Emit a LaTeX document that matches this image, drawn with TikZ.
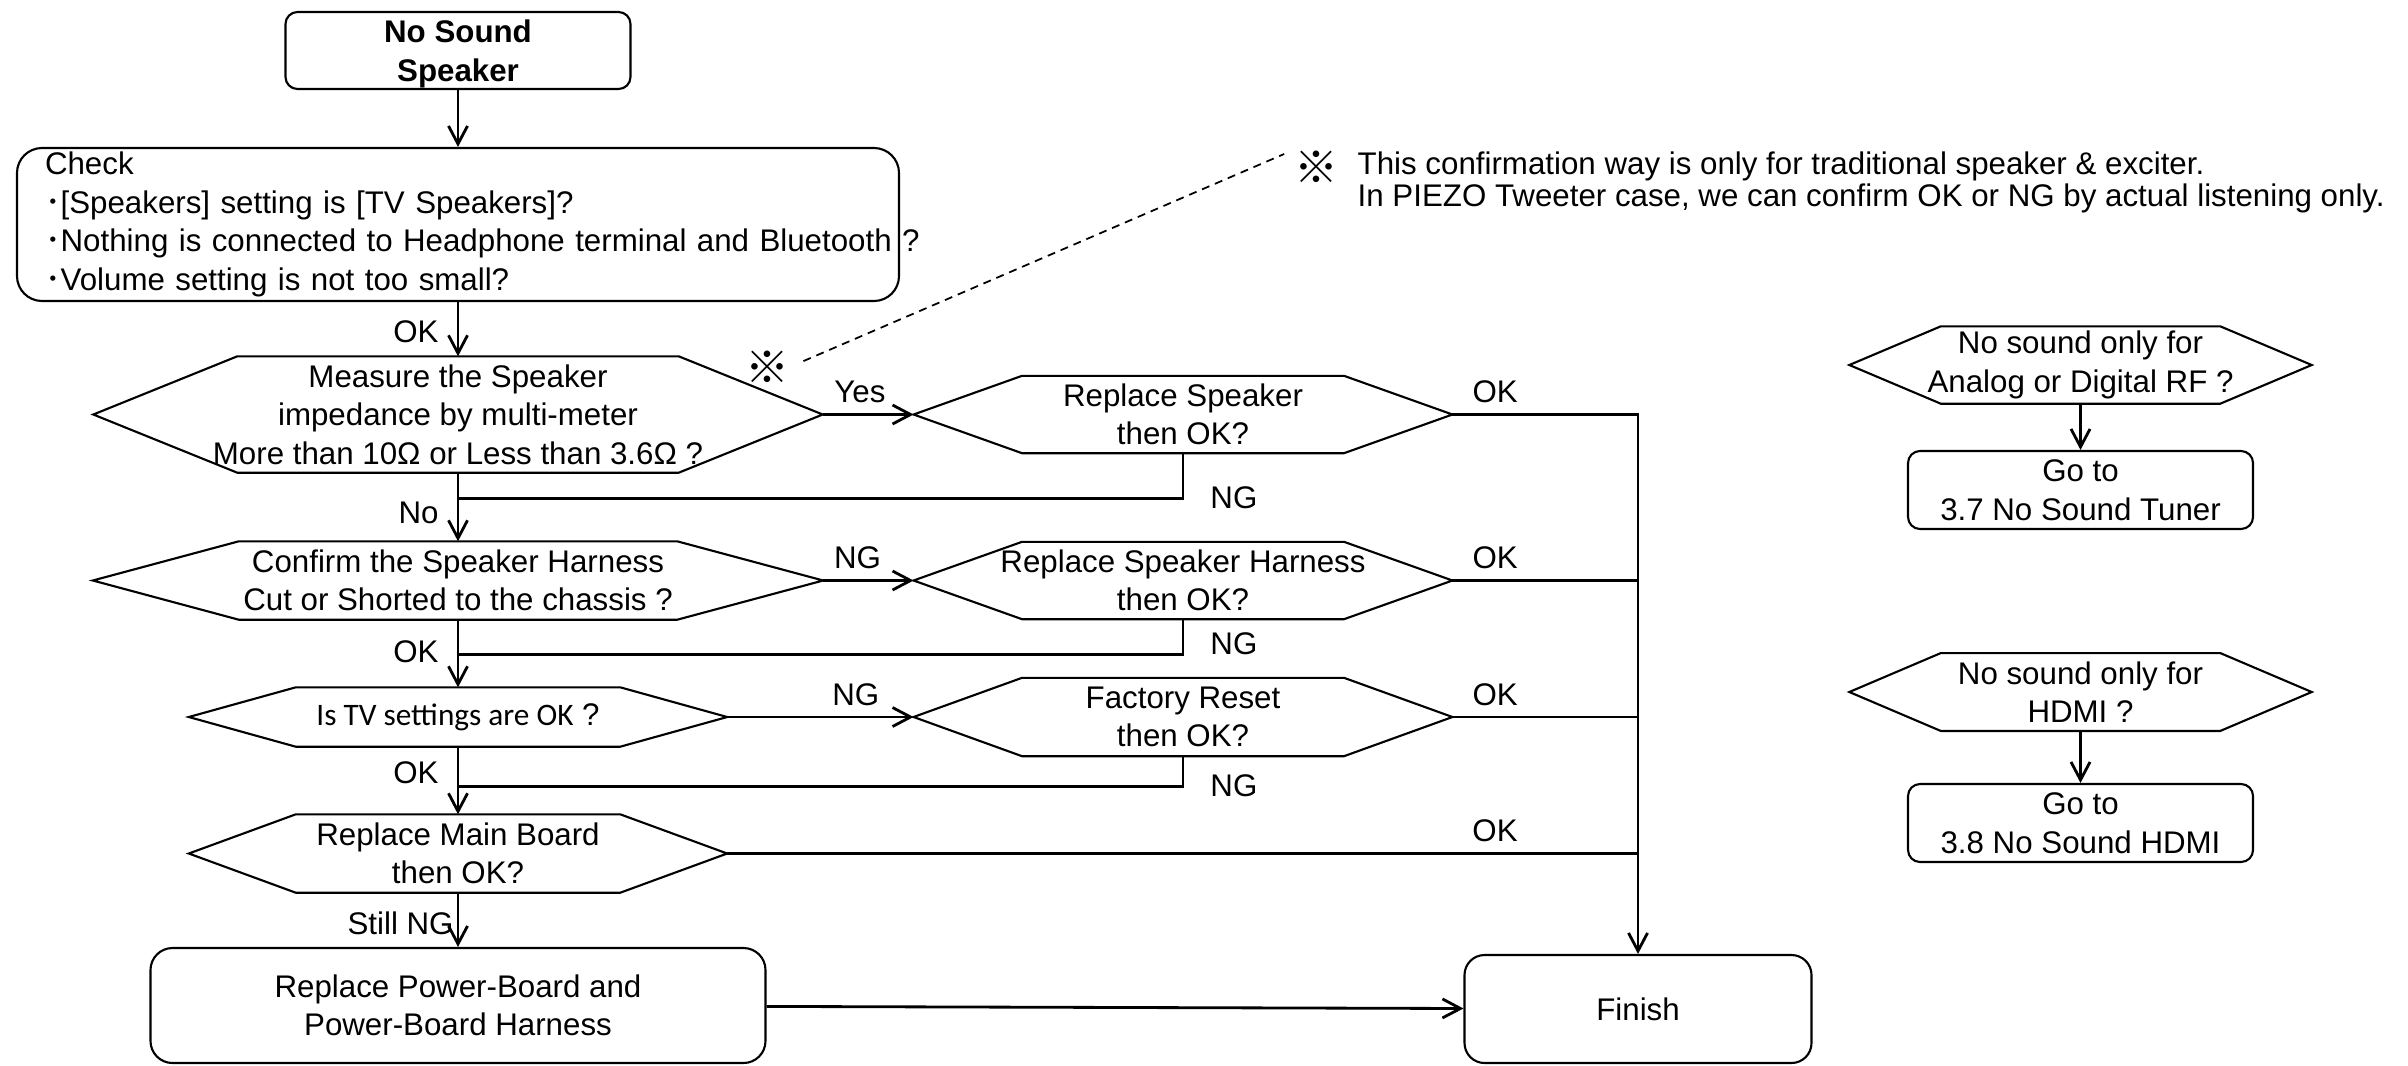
\documentclass[tikz,border=0pt]{standalone}
\usepackage{fontspec}
\setmainfont{Liberation Sans}
\newfontfamily\cjk{Noto Sans CJK JP}
\newfontfamily\calfont{Carlito}
\usetikzlibrary{arrows.meta, positioning}

\newcommand{\fsz}{\fontsize{8.9}{10.95}\selectfont}
\newcommand{\notefont}{\fontsize{8.9}{9}\selectfont}
% hexagon drawn round an empty node: node name, length of the slanted part
\newcommand{\hexline}[2]{%
  \draw[outline] ([xshift=#2]#1.north west) -- ([xshift=-#2]#1.north east)
    -- (#1.east) -- ([xshift=-#2]#1.south east)
    -- ([xshift=#2]#1.south west) -- (#1.west) -- cycle;}

\begin{document}
\begin{tikzpicture}[
    font=\fsz,
    outline/.style={line width=0.6pt},
    box/.style={rectangle, draw, line width=0.6pt, rounded corners=#1,
                align=center, inner sep=0pt},
    box/.default=0.12cm,
    hexa/.style={rectangle, align=center, inner sep=0pt},
    conn/.style={line width=0.8pt},
    arrow/.style={conn, -{Straight Barb[length=0.18cm, width=0.19cm]}},
    dashlink/.style={line width=0.5pt, dash pattern=on 0.08cm off 0.06cm},
    lbl/.style={inner sep=0.1cm},
    refmark/.style={font=\cjk\fontsize{12.5}{12.5}\selectfont, inner sep=0pt},
]
\useasboundingbox (0,0) rectangle (24.08,-10.65);

% ── main column  x=4.58 ────────────────────────────────────────────
\node[box, minimum width=3.45cm, minimum height=0.77cm, text depth=0pt,
      font=\fsz\bfseries]
                 (start)   at (4.58,-0.505) {No Sound\\Speaker};
\node[box=0.25cm, minimum height=1.53cm, text width=8.26cm,
      inner xsep=0.28cm, align=left]
                 (check)   at (4.58,-2.245) {Check\\
  {\cjk ･}[Speakers] setting is [TV Speakers]?\\
  \mbox{{\cjk ･}Nothing is connected to Headphone terminal and Bluetooth ?}\\
  {\cjk ･}Volume setting is not too small?};
\node[hexa, minimum width=7.28cm, minimum height=1.15cm]
                 (measure) at (4.58,-4.145) {Measure the Speaker\\
  impedance by multi-meter\\More than 10Ω or Less than 3.6Ω ?};
\node[hexa, minimum width=7.29cm, minimum height=0.77cm]
                 (confirm) at (4.58,-5.805) {Confirm the Speaker Harness\\
  Cut or Shorted to the chassis ?};
\node[hexa, minimum width=5.37cm, minimum height=0.58cm]
                 (tvset)   at (4.58,-7.17) {{\calfont Is TV settings are OK} ?};
\node[hexa, minimum width=5.37cm, minimum height=0.77cm]
                 (mainbd)  at (4.58,-8.535) {Replace Main Board\\then OK?};
\node[box=0.22cm, minimum width=6.15cm, minimum height=1.15cm]
                 (power)   at (4.58,-10.055) {Replace Power-Board and\\
  Power-Board Harness};

% ── repair column  x=11.83 ─────────────────────────────────────────
\node[hexa, minimum width=5.375cm, minimum height=0.76cm]
                 (rspk)    at (11.83,-4.145) {Replace Speaker\\then OK?};
\node[hexa, minimum width=5.375cm, minimum height=0.76cm]
                 (rharn)   at (11.83,-5.805) {Replace Speaker Harness\\then OK?};
\node[hexa, minimum width=5.375cm, minimum height=0.77cm]
                 (reset)   at (11.83,-7.17) {Factory Reset\\then OK?};
\node[box=0.2cm, minimum width=3.47cm, minimum height=1.08cm]
                 (finish)  at (16.38,-10.09) {Finish};

% ── other sources  x=20.805 ────────────────────────────────────────
\node[hexa, minimum width=4.61cm, minimum height=0.76cm]
                 (rfq)     at (20.805,-3.65) {No sound only for\\
  Analog or Digital RF ?};
\node[box, minimum width=3.45cm, minimum height=0.78cm]
                 (gotuner) at (20.805,-4.90) {Go to\\3.7 No Sound Tuner};
\node[hexa, minimum width=4.61cm, minimum height=0.765cm]
                 (hdmiq)   at (20.805,-6.92) {No sound only for\\HDMI ?};
\node[box, minimum width=3.45cm, minimum height=0.78cm]
                 (gohdmi)  at (20.805,-8.23) {Go to\\3.8 No Sound HDMI};

% ── remark ─────────────────────────────────────────────────────────
\node[refmark] (kome)     at (7.67,-3.67) {※};
\node[refmark] (komenote) at (13.16,-1.67) {※};
\node[inner sep=0pt, anchor=west, align=left, font=\notefont]
                 (notetxt) at (13.57,-1.825) {This confirmation way is only
  for traditional speaker \& exciter.\\In PIEZO Tweeter case, we can
  confirm OK or NG by actual listening only.};

% hexagon outlines
\hexline{measure}{1.44cm}
\hexline{confirm}{1.46cm}
\hexline{tvset}{1.07cm}
\hexline{mainbd}{1.07cm}
\hexline{rspk}{1.085cm}
\hexline{rharn}{1.085cm}
\hexline{reset}{1.085cm}
\hexline{rfq}{0.915cm}
\hexline{hdmiq}{0.915cm}

% ── arrows ─────────────────────────────────────────────────────────
% main chain, downwards
\draw[arrow] (start)   -- (check);
\draw[arrow] (check)   -- node[lbl, left=0.08cm, pos=0.54]{OK} (measure);
\draw[arrow] (measure) -- node[lbl, left=0.08cm, pos=0.59]{No} (confirm);
\draw[arrow] (confirm) -- node[lbl, left=0.08cm, pos=0.48]{OK} (tvset);
\draw[arrow] (tvset)   -- node[lbl, left=0.08cm, pos=0.39]{OK} (mainbd);
\draw[arrow] (mainbd)  -- node[lbl, left=-0.07cm, pos=0.57]{Still NG} (power);

% checks -> repairs
\draw[arrow] (measure) -- node[lbl, above, pos=0.41]{Yes} (rspk);
\draw[arrow] (confirm) -- node[lbl, above, pos=0.38]{NG} (rharn);
\draw[arrow] (tvset)   -- node[lbl, above, pos=0.69]{NG} (reset);

% repair OK -> bus down to Finish
\draw[arrow] (rspk.east) -- node[lbl, above, pos=0.23]{OK}
  (rspk.east -| finish.north) -- (finish.north);
\draw[conn] (rharn.east)  -- node[lbl, above, pos=0.23]{OK}
  (rharn.east -| finish.north);
\draw[conn] (reset.east)  -- node[lbl, above, pos=0.23]{OK}
  (reset.east -| finish.north);
\draw[conn] (mainbd.east) -- node[lbl, above, pos=0.843]{OK}
  (mainbd.east -| finish.north);

% repair NG -> back into the main column
\draw[conn] (rspk.south) -- ++(0,-0.45) coordinate (ng1)
  node[lbl, right=0.16cm]{NG} -- (ng1 -| measure.south);
\draw[conn] (rharn.south) -- ++(0,-0.35) coordinate (ng2)
  node[lbl, right=0.16cm, yshift=0.1cm]{NG} -- (ng2 -| confirm.south);
\draw[conn] (reset.south) -- ++(0,-0.30) coordinate (ng3)
  node[lbl, right=0.16cm]{NG} -- (ng3 -| tvset.south);

\draw[arrow] (power) -- (finish);

% side branches
\draw[arrow] (rfq)   -- (gotuner);
\draw[arrow] (hdmiq) -- (gohdmi);

% remark leader
\draw[dashlink, shorten <=0.15cm, shorten >=0.1cm]
  (kome.east) -- (komenote.north west);

\end{tikzpicture}
\end{document}
